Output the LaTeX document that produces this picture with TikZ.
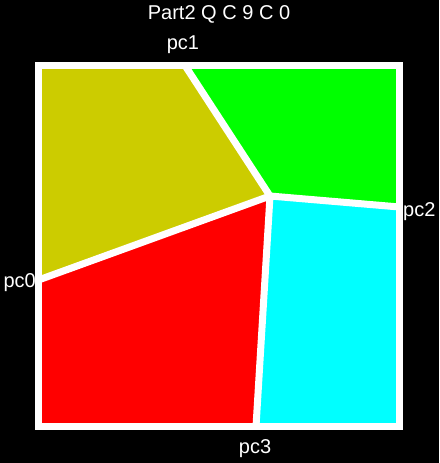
\documentclass[tikz,border=0pt]{standalone}
\usepackage{fontspec}
\setmainfont{Liberation Sans}
\usetikzlibrary{positioning}
\definecolor{olive}{HTML}{CCCC00}
\definecolor{lime}{HTML}{00FF00}
\definecolor{aqua}{HTML}{00FFFF}
\definecolor{redc}{HTML}{FF0000}

\begin{document}
\begin{tikzpicture}[x=1pt,y=-1pt,
 every node/.style={font=\fontsize{20}{24}\selectfont,text=white,inner sep=0pt},
 cut/.style={white,line width=7pt,line join=round}]
    \fill[black] (0,0) rectangle (439,463);
    \useasboundingbox (0,0) rectangle (439,463);
    % corners and cut points
    \coordinate (tl) at (38.5,65.5);
    \coordinate (tr) at (399.5,65.5);
    \coordinate (br) at (399.5,426.5);
    \coordinate (bl) at (38.5,426.5);
    \coordinate (mid) at (270,196);
    \coordinate (q1) at (185,65.5);
    \coordinate (q2) at (399.5,207);
    \coordinate (q0) at (38.5,280);
    \coordinate (q3) at (256,426.5);
    % regions
    \fill[olive] (tl) -- (q1) -- (mid) -- (q0) -- cycle;
    \fill[lime] (q1) -- (tr) -- (q2) -- (mid) -- cycle;
    \fill[aqua] (mid) -- (q2) -- (br) -- (q3) -- cycle;
    \fill[redc] (q0) -- (mid) -- (q3) -- (bl) -- cycle;
    % cuts
    \draw[cut] (q1) -- (mid) -- (q2);
    \draw[cut] (q0) -- (mid) -- (q3);
    \draw[cut,line join=miter] (tl) rectangle (br);
    % labels
    \node (title) at (219,14) {Part2 Q C 9 C 0};
    \node (pc1) at (183,45) {pc1};
    \node[anchor=west] (pc2) at (403,212) {pc2};
    \node[anchor=east] (pc0) at (36,283) {pc0};
    \node (pc3) at (255,449) {pc3};
\end{tikzpicture}
\end{document}
